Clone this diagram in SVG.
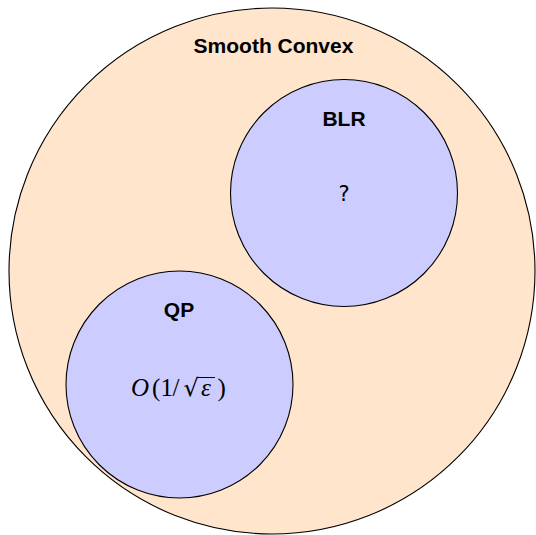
<svg xmlns="http://www.w3.org/2000/svg" width="536" height="535" viewBox="0 0 536 535">
<style>
.outer{fill:#FFE5CC;stroke:#000;stroke-width:1.1}
.inner{fill:#CCCCFF;stroke:#000;stroke-width:1.1}
.title{font-family:"Liberation Sans","DejaVu Sans",sans-serif;font-weight:bold;font-size:21px;fill:#000;text-anchor:middle}
.body{font-family:"DejaVu Sans","Liberation Sans",sans-serif;font-size:21px;fill:#000;text-anchor:middle}
.math{font-family:"Liberation Serif","DejaVu Serif",serif;font-size:25px;fill:#000}
</style>
<g id="smooth-convex">
<circle class="outer" cx="272" cy="271" r="263"/>
<text class="title" x="273.5" y="53">Smooth Convex</text>
</g>
<g id="blr">
<circle class="inner" cx="344" cy="193" r="113.5"/>
<text class="title" x="344" y="126">BLR</text>
<text class="body" x="344" y="201">?</text>
</g>
<g id="qp">
<circle class="inner" cx="179.5" cy="384.5" r="113.5"/>
<text class="title" x="179" y="317">QP</text>
<text class="math" y="396"><tspan x="131" font-style="italic">O</tspan><tspan x="152">(</tspan><tspan x="160.5">1</tspan><tspan x="172.5">/</tspan><tspan x="183.5" font-family="DejaVu Serif" font-size="24">√</tspan><tspan x="201" font-style="italic">ε</tspan><tspan x="217.5">)</tspan></text>
<line x1="197" y1="377.5" x2="215" y2="377.5" stroke="#000" stroke-width="1"/>
</g>
<g id="connectors"/>
</svg>
